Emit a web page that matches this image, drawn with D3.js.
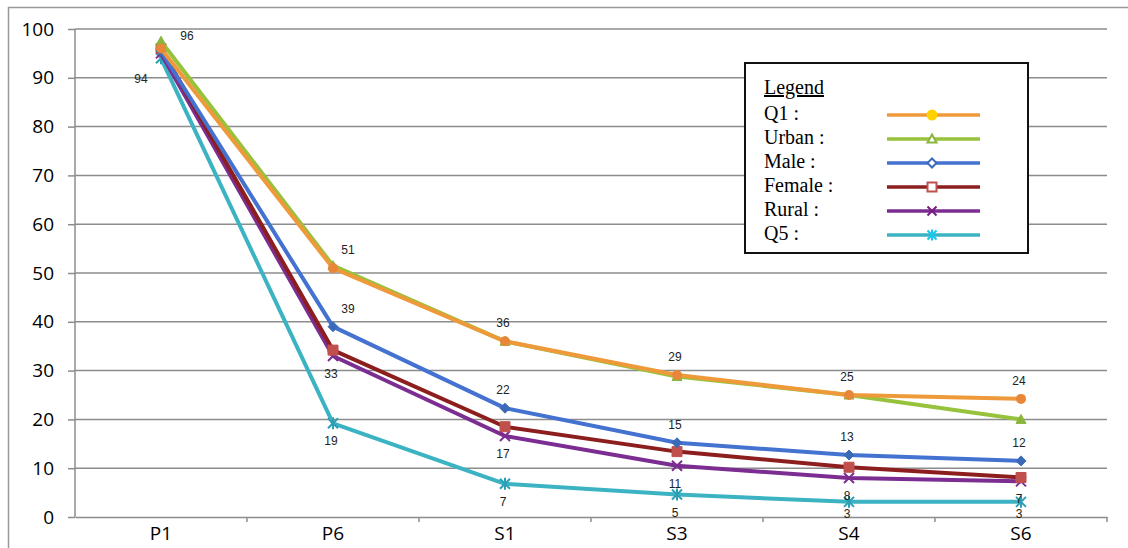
<!DOCTYPE html>
<html>
<head>
<meta charset="utf-8">
<script src="https://cdn.jsdelivr.net/npm/d3@7"></script>
<style>
  body { margin: 0; background: #fff; }
  #chart { width: 1128px; height: 548px; }
  .axis text { font-family: "Open Sans", "Liberation Sans", sans-serif; font-size: 19px; fill: #000; }
  .datalabel { font-family: "Liberation Sans", Arial, sans-serif; font-size: 12px; fill: #222; }
  .legend text { font-family: "Liberation Serif", "Times New Roman", serif; font-size: 20px; fill: #000; }
</style>
</head>
<body>
<div id="chart"></div>
<script>
// grades along the x axis
const grades = ["P1", "P6", "S1", "S3", "S4", "S6"];
const yTicks = [0, 10, 20, 30, 40, 50, 60, 70, 80, 90, 100];

// series values
const q1Values     = [96, 51, 36, 29.1, 25, 24.2];
const urbanValues  = [97.5, 51.5, 36, 28.8, 25, 20];
const maleValues   = [95.5, 39, 22.3, 15.2, 12.7, 11.5];
const femaleValues = [96, 34.2, 18.5, 13.4, 10.2, 8.1];
const ruralValues  = [95, 33, 16.6, 10.5, 8, 7.3];
const q5Values     = [94, 19.2, 6.8, 4.6, 3.1, 3.1];

// value labels printed on the chart (null = none)
const q1Labels     = [null, "51", "36", "29", "25", "24"];
const urbanLabels  = ["96", null, null, null, null, null];
const maleLabels   = [null, "39", "22", "15", "13", "12"];
const femaleLabels = [null, null, null, null, null, null];
const ruralLabels  = [null, "33", "17", "11", "8", "7"];
const q5Labels     = ["94", "19", "7", "5", "3", "3"];

const legendNames = ["Q1 :", "Urban :", "Male :", "Female :", "Rural :", "Q5 :"];

const series = [
    {name: "Q5",     values: q5Values,     labels: q5Labels,     color: "#3cb3c3", marker: "#2a9fb5", legendMarker: "#14c8f0", shape: "asterisk", pos: "below"},
    {name: "Rural",  values: ruralValues,  labels: ruralLabels,  color: "#7b2d91", marker: "#7b2d91", legendMarker: "#7b1d86", shape: "cross",    pos: "below"},
    {name: "Female", values: femaleValues, labels: femaleLabels, color: "#8c1e1e", marker: "#c0504d", legendMarker: "#c0504d", shape: "square",   pos: "below"},
    {name: "Male",   values: maleValues,   labels: maleLabels,   color: "#4472d0", marker: "#3b6bb8", legendMarker: "#3b6bb8", shape: "diamond",  pos: "above"},
    {name: "Urban",  values: urbanValues,  labels: urbanLabels,  color: "#97c23c", marker: "#8ab63c", legendMarker: "#8ab63c", shape: "triangle", pos: "right"},
    {name: "Q1",     values: q1Values,     labels: q1Labels,     color: "#ef9a3a", marker: "#e8873a", legendMarker: "#ffd200", shape: "circle",   pos: "above"}
];
const legendOrder = ["Q1", "Urban", "Male", "Female", "Rural", "Q5"];

const width = 1128;
const height = 548;
const margin = {top: 29, left: 75, right: 21, bottom: 31};

const svg = d3.select("#chart")
    .append("svg")
    .attr("width", width)
    .attr("height", height);

// outer frame
svg.append("rect")
    .attr("x", 8.5).attr("y", 7.5)
    .attr("width", width + 20).attr("height", height + 20)
    .attr("fill", "none")
    .attr("stroke", "#999")
    .attr("stroke-width", 1.5);

const xScale = d3.scaleBand()
    .domain(grades)
    .range([margin.left, width - margin.right]);

const yScale = d3.scaleLinear()
    .domain([0, 100])
    .range([height - margin.bottom, margin.top]);

// gridlines
svg.append("g")
    .selectAll("line")
    .data(yTicks.filter(d => d > 0))
    .enter()
    .append("line")
        .attr("x1", margin.left)
        .attr("x2", width - margin.right)
        .attr("y1", d => yScale(d))
        .attr("y2", d => yScale(d))
        .attr("stroke", "#8c8c8c")
        .attr("stroke-width", 1.5);

// y axis
const yAxis = svg.append("g")
    .attr("class", "axis")
    .attr("transform", `translate(${margin.left},0)`)
    .call(d3.axisLeft(yScale).tickValues(yTicks).tickSize(7).tickPadding(14));
yAxis.selectAll("line, path").attr("stroke", "#8c8c8c").attr("stroke-width", 1.5);
yAxis.select(".domain").attr("d", `M0,${yScale(0)}V${yScale(100)}`);

// x axis: ticks sit on the band boundaries
const xAxis = svg.append("g")
    .attr("class", "axis")
    .attr("transform", `translate(0,${yScale(0)})`)
    .call(d3.axisBottom(xScale).tickSize(0).tickPadding(9));
xAxis.select(".domain").attr("stroke", "#8c8c8c").attr("stroke-width", 1.5);
xAxis.selectAll("text").attr("dy", "0.72em");
xAxis.selectAll(".bound")
    .data(grades)
    .enter()
    .append("line")
        .attr("x1", d => xScale(d) + xScale.bandwidth())
        .attr("x2", d => xScale(d) + xScale.bandwidth())
        .attr("y1", 0).attr("y2", 5)
        .attr("stroke", "#8c8c8c")
        .attr("stroke-width", 1.5);

const cx = d => xScale(d) + xScale.bandwidth() / 2;

function markerPath(shape, s) {
    if (shape === "triangle") return `M0,${-s}L${s},${s * 0.8}L${-s},${s * 0.8}Z`;
    if (shape === "diamond") return `M0,${-s}L${s},0L0,${s}L${-s},0Z`;
    if (shape === "square") return `M${-s},${-s}H${s}V${s}H${-s}Z`;
    if (shape === "cross") return `M${-s},${-s}L${s},${s}M${s},${-s}L${-s},${s}`;
    if (shape === "asterisk") return `M${-s},${-s}L${s},${s}M${s},${-s}L${-s},${s}M0,${-s * 1.2}V${s * 1.2}`;
    return null;
}

function drawMarker(g, sr, color, x, y, size, hollow) {
    if (sr.shape === "circle") {
        g.append("circle").attr("cx", x).attr("cy", y).attr("r", size)
            .attr("fill", color);
        return;
    }
    const open = sr.shape === "cross" || sr.shape === "asterisk";
    g.append("path")
        .attr("transform", `translate(${x},${y})`)
        .attr("d", markerPath(sr.shape, size))
        .attr("fill", open || hollow ? "#fff" : color)
        .attr("fill-opacity", open ? 0 : 1)
        .attr("stroke", color)
        .attr("stroke-width", open ? 2 : (hollow ? 2 : 1));
}

const line = d3.line()
    .x((d, i) => cx(grades[i]))
    .y(d => yScale(d));

// lines and markers
series.forEach(function(sr) {
    const g = svg.append("g");
    g.append("path")
        .attr("d", line(sr.values))
        .attr("fill", "none")
        .attr("stroke", sr.color)
        .attr("stroke-width", 4)
        .attr("stroke-linejoin", "round");
    sr.values.forEach(function(v, i) {
        drawMarker(g, sr, sr.marker, cx(grades[i]), yScale(v), 5, false);
    });
});

// data labels
series.forEach(function(sr) {
    sr.values.forEach(function(v, i) {
        const txt = sr.labels[i];
        if (txt === null) return;
        let dx = 0, dy = -14;
        if (sr.pos === "below") dy = 22;
        if (sr.pos === "right") { dx = 26; dy = -1; }
        if (i === 0 && sr.name === "Q5") { dx = -20; dy = 25; }
        if (i === 1 && sr.pos === "above") dx = 15;
        if (i === 1 && sr.pos === "below") dx = -2;
        if (i > 1) dx = -2;
        // labels close to the x axis stay just inside the plot
        const y = Math.min(yScale(v) + dy, yScale(0) + 1);
        svg.append("text")
            .attr("class", "datalabel")
            .attr("x", cx(grades[i]) + dx)
            .attr("y", y)
            .attr("text-anchor", "middle")
            .text(txt);
    });
});

// legend
const legend = svg.append("g").attr("class", "legend");
legend.append("rect")
    .attr("x", 745).attr("y", 63)
    .attr("width", 283).attr("height", 190)
    .attr("fill", "#fff")
    .attr("stroke", "#111")
    .attr("stroke-width", 2);
legend.append("text")
    .attr("x", 764).attr("y", 94)
    .attr("text-decoration", "underline")
    .text("Legend");
legendOrder.forEach(function(name, i) {
    const sr = series.find(s => s.name === name);
    const y = 115 + i * 24;
    legend.append("text")
        .attr("x", 764).attr("y", y + 5)
        .text(legendNames[i]);
    legend.append("line")
        .attr("x1", 887).attr("x2", 980)
        .attr("y1", y).attr("y2", y)
        .attr("stroke", sr.color)
        .attr("stroke-width", 3.5);
    drawMarker(legend, sr, sr.legendMarker, 932, y, sr.shape === "circle" ? 5.5 : 4.5, sr.shape !== "circle");
});
</script>
</body>
</html>
